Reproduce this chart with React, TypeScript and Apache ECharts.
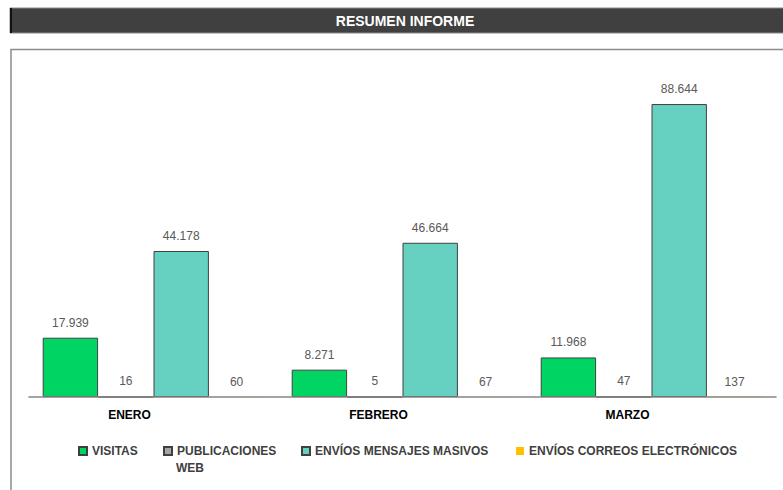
import React, { useEffect, useRef } from "react";
import * as echarts from "echarts";

const categories = ["ENERO", "FEBRERO", "MARZO"];
const seriesNames = [
  "VISITAS",
  "PUBLICACIONES WEB",
  "ENVÍOS MENSAJES MASIVOS",
  "ENVÍOS CORREOS ELECTRÓNICOS",
];
const visitas = [17939, 8271, 11968];
const publicaciones = [16, 5, 47];
const enviosMensajes = [44178, 46664, 88644];
const enviosCorreos = [60, 67, 137];
const title = "RESUMEN INFORME";

const colors = ["#00D463", "#A6A6A6", "#66D1C1", "#FFC000"];
const FONT = "'Liberation Sans', Arial, sans-serif";

const fmt = (v: number) => String(v).replace(/\B(?=(\d{3})+(?!\d))/g, ".");

export default function App() {
  const ref = useRef<HTMLDivElement>(null);
  useEffect(() => {
    document.body.style.margin = "0";
    const chart = echarts.init(ref.current!, null, { renderer: "svg" });
    const data = [visitas, publicaciones, enviosMensajes, enviosCorreos];
    const legendX = [78, 163, 301, 516];
    chart.setOption({
      animation: false,
      backgroundColor: "#ffffff",
      graphic: [
        { type: "rect", shape: { x: 10, y: 8, width: 780, height: 25 }, style: { fill: "#404040", stroke: "#8a8a8a", lineWidth: 1 } },
        { type: "rect", shape: { x: 10, y: 8, width: 2, height: 25 }, style: { fill: "#111111" } },
        {
          type: "text",
          x: 405,
          y: 21,
          style: { text: title, fill: "#ffffff", font: `bold 14px ${FONT}`, align: "center", verticalAlign: "middle" },
        },
        { type: "rect", shape: { x: 11, y: 49.5, width: 790, height: 460 }, style: { fill: "none", stroke: "#8c8c8c", lineWidth: 1.5 } },
        {
          type: "text",
          x: 176,
          y: 468,
          style: { text: "WEB", fill: "#404040", font: `bold 12px ${FONT}`, align: "left", verticalAlign: "middle" },
        },
      ],
      grid: { left: 29, right: 7, top: 66.5, bottom: 93, containLabel: false },
      legend: seriesNames.map((n, i) => ({
        data: [n],
        left: legendX[i],
        top: 445,
        icon: "rect",
        itemWidth: 8,
        itemHeight: 8,
        itemGap: 5,
        padding: 0,
        formatter: i === 1 ? () => "PUBLICACIONES" : undefined,
        textStyle: { fontFamily: FONT, fontWeight: "bold", fontSize: 12, color: "#404040", padding: [0, 0, 0, 0] },
      })),
      xAxis: {
        type: "category",
        data: categories,
        z: 5,
        axisLine: { lineStyle: { color: "#868686", width: 1.5 } },
        axisTick: { show: false },
        axisLabel: { color: "#000000", fontFamily: FONT, fontWeight: "bold", fontSize: 12, margin: 12, padding: [0, 48, 0, 0] },
      },
      yAxis: {
        type: "value",
        min: 0,
        max: 100000,
        show: false,
        splitLine: { show: false },
      },
      series: seriesNames.map((n, i) => ({
        type: "bar",
        name: n,
        data: data[i],
        barGap: "0%",
        barCategoryGap: "11%",
        itemStyle: {
          color: colors[i],
          borderColor: i === 3 ? colors[i] : "#404040",
          borderWidth: i === 3 ? 0 : 1,
        },
        label: {
          show: true,
          position: "top",
          distance: 9,
          color: "#595959",
          fontFamily: FONT,
          fontSize: 12,
          formatter: (p: any) => fmt(p.value),
        },
      })),
    });
    return () => chart.dispose();
  }, []);
  return <div ref={ref} style={{ position: "fixed", left: 0, top: 0, width: 783, height: 490 }} />;
}
